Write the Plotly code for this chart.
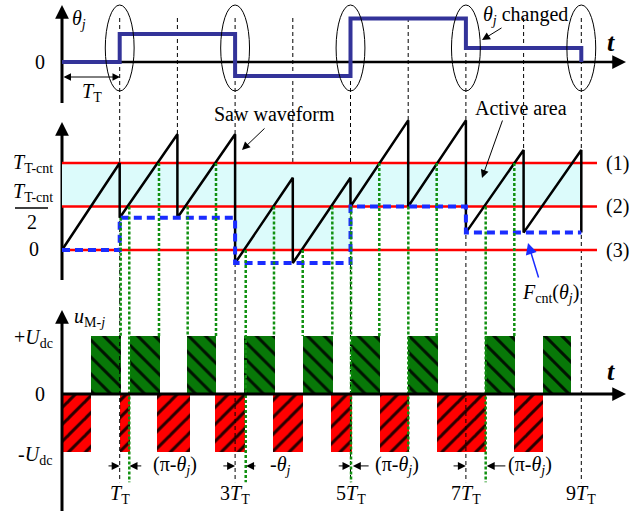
import plotly.graph_objects as go

W, H = 644, 511

# ---------------- data ----------------
# top panel: theta_j step signal (t in units of T_T)
theta_t = [0, 1, 3, 5, 7, 9]
theta_val = [0, 2.0, -1.0, 3.1, 1.0, 0]
change_t = [1, 3, 5, 7, 9]          # instants where theta_j may change (ellipses)

# middle panel: saw waveform vertices (value in units of T_T-cnt)
saw_t = [0, 1, 1, 2, 2, 3, 3, 4, 4, 5, 5, 6, 6, 7, 7, 8, 8, 9, 9]
saw_v = [0, 1.0, 0.37, 1.33, 0.37, 1.33, -0.15, 0.83, -0.15, 0.83,
         0.5, 1.49, 0.5, 1.49, 0.2, 1.15, 0.2, 1.15, 0.2]
fcnt_t = [0, 1, 3, 5, 7, 9]
fcnt_v = [0, 0.37, -0.15, 0.5, 0.2, 0.2]
levels = [1.0, 0.5, 0.0]
level_names = ['(1)', '(2)', '(3)']
active_t0 = [0, 3]
active_t1 = [9, 5]
active_lo = [0.5, 0.0]
active_hi = [1.0, 0.5]

# bottom panel: output pulses u_M-j
green_start = [0.51, 1.17, 2.17, 3.16, 4.17, 5.01, 6.00, 7.33, 8.33]
green_end = [1.02, 1.69, 2.67, 3.69, 4.69, 5.51, 6.51, 7.85, 8.83]
red_start = [0.00, 1.00, 1.65, 2.65, 3.65, 4.67, 5.51, 6.50, 7.83]
red_end = [0.51, 1.17, 2.22, 3.17, 4.17, 5.02, 6.02, 7.34, 8.34]

# green dotted projection lines: t, start level (middle), end level (bottom)
gd_t = [1.017, 1.166, 1.681, 2.178, 2.669, 3.184, 3.674, 4.172, 4.685,
        5.009, 5.499, 6.002, 6.494, 7.343, 7.839]
gd_top = [0.37, 0.5, 1, 0.5, 1, 0, 0.5, 0, 0.5, 0.5, 1, 0.5, 1, 0.5, 1]
gd_bot = [1, -1.52, 1, 1, 1, -1.52, 1, 1, 1, -1.52, 1, -1.0, 1, -1.52, 1]

grid_t = [1, 2, 3, 4, 5, 6, 7, 8, 9]
tick_t = [1, 3, 5, 7, 9]
tick_labels = ['<i>T</i><sub>T</sub>', '3<i>T</i><sub>T</sub>', '5<i>T</i><sub>T</sub>',
               '7<i>T</i><sub>T</sub>', '9<i>T</i><sub>T</sub>']
# interval annotations in bottom panel: (right-arrow tail, head), (left-arrow tail, head), label
gap_r = [(0.78, 1.0), (2.77, 3.0), (4.77, 5.0), (6.76, 7.0)]
gap_l = [(1.40, 1.17), (3.38, 3.19), (5.34, 5.04), (7.71, 7.36)]
gap_text = ['(π-<i>θ</i><sub><i>j</i></sub>)', '-<i>θ</i><sub><i>j</i></sub>',
            '(π-<i>θ</i><sub><i>j</i></sub>)', '(π-<i>θ</i><sub><i>j</i></sub>)']
gap_text_x = [1.96, 3.78, 5.81, 8.11]

# ---------------- layout geometry ----------------
X0, TPX = 62, 57.7
panels = {
    'y':  dict(zero=62, scale=14, ptop=0, pbot=110),
    'y2': dict(zero=250, scale=87, ptop=110, pbot=300),
    'y3': dict(zero=394, scale=58, ptop=300, pbot=511),
}


def yrange(p):
    return [(p['zero'] - p['pbot']) / p['scale'], (p['zero'] - p['ptop']) / p['scale']]


def ydom(p):
    return [1 - p['pbot'] / H, 1 - p['ptop'] / H]


def to_paper(ax, v):
    p = panels[ax]
    return 1 - (p['zero'] - v * p['scale']) / H


def PX(x):
    return x / W


def PY(y):
    return 1 - y / H


FONT = 'Liberation Serif, Times New Roman, serif'
fig = go.Figure()

# active area fill
for t0, t1, lo, hi in zip(active_t0, active_t1, active_lo, active_hi):
    fig.add_trace(go.Scatter(x=[t0, t1, t1, t0, t0], y=[lo, lo, hi, hi, lo], yaxis='y2',
                             mode='lines', fill='toself', fillcolor='#dcfbfb',
                             line=dict(width=0, color='rgba(0,0,0,0)'), hoverinfo='skip'))
# red level lines
red_end_t = (597 - X0) / TPX
for lv in levels:
    fig.add_trace(go.Scatter(x=[0, red_end_t], y=[lv, lv], yaxis='y2', mode='lines',
                             line=dict(color='#ff0000', width=2.5), hoverinfo='skip'))
# saw waveform
fig.add_trace(go.Scatter(x=saw_t, y=saw_v, yaxis='y2', mode='lines',
                         line=dict(color='black', width=2.5)))
# F_cnt dashed blue
fig.add_trace(go.Scatter(x=fcnt_t, y=fcnt_v, yaxis='y2', mode='lines', line_shape='hv',
                         line=dict(color='#1a2cff', width=4, dash='8px,5px')))
# theta_j step
fig.add_trace(go.Scatter(x=theta_t, y=theta_val, yaxis='y', mode='lines', line_shape='hv',
                         line=dict(color='#333399', width=4)))
# pulses
fig.add_trace(go.Bar(x=[(s + e) / 2 for s, e in zip(green_start, green_end)],
                     y=[1] * len(green_start), width=[e - s for s, e in zip(green_start, green_end)],
                     base=0, yaxis='y3',
                     marker=dict(color='#087808', line=dict(width=0),
                                 pattern=dict(shape='\\', fgcolor='black', size=12, solidity=0.25,
                                              fgopacity=0.85))))
fig.add_trace(go.Bar(x=[(s + e) / 2 for s, e in zip(red_start, red_end)],
                     y=[-1] * len(red_start), width=[e - s for s, e in zip(red_start, red_end)],
                     base=0, yaxis='y3',
                     marker=dict(color='#ff0000', line=dict(width=0),
                                 pattern=dict(shape='/', fgcolor='black', size=12, solidity=0.25,
                                              fgopacity=0.85))))

shapes = []
# black dashed time grid
top_grid = to_paper('y', (62 - 18) / 14)
for k in grid_t:
    peak = max(v for t, v in zip(saw_t, saw_v) if t == k)
    if k % 2 == 1:
        shapes.append(dict(type='line', xref='x', yref='paper', x0=k, x1=k,
                           y0=top_grid, y1=PY(300), line=dict(color='black', width=1, dash='4px,3px'),
                           layer='below'))
        shapes.append(dict(type='line', xref='x', yref='paper', x0=k, x1=k,
                           y0=PY(300), y1=to_paper('y3', -1.52),
                           line=dict(color='black', width=1, dash='4px,3px'), layer='above'))
    else:
        shapes.append(dict(type='line', xref='x', yref='paper', x0=k, x1=k,
                           y0=top_grid, y1=to_paper('y2', peak),
                           line=dict(color='black', width=1, dash='4px,3px'), layer='below'))
# green dotted projections
for t, a, b in zip(gd_t, gd_top, gd_bot):
    shapes.append(dict(type='line', xref='x', yref='paper', x0=t, x1=t,
                       y0=to_paper('y2', a), y1=to_paper('y3', b),
                       line=dict(color='#109010', width=2.5, dash='3px,2px'), layer='above'))
# ellipses
for k in change_t:
    shapes.append(dict(type='circle', xref='x', yref='y', x0=k - 0.25, x1=k + 0.25,
                       y0=(62 - 91) / 14, y1=(62 - 5) / 14, line=dict(color='black', width=1)))
# axes lines
ax_t_end = (618 - X0) / TPX
shapes += [
    dict(type='line', xref='x', yref='y', x0=0, x1=ax_t_end, y0=0, y1=0,
         line=dict(color='black', width=2.5), layer='below'),
    dict(type='line', xref='x', yref='paper', x0=0, x1=0, y0=PY(103), y1=PY(14),
         line=dict(color='black', width=3), layer='below'),
    dict(type='line', xref='x', yref='paper', x0=0, x1=0, y0=PY(280), y1=PY(131),
         line=dict(color='black', width=3), layer='below'),
    dict(type='line', xref='x', yref='paper', x0=0, x1=0, y0=PY(511), y1=PY(318),
         line=dict(color='black', width=3), layer='above'),
    dict(type='line', xref='x', yref='y3', x0=0, x1=ax_t_end, y0=0, y1=0,
         line=dict(color='black', width=3), layer='above'),
    # fraction bar
    dict(type='line', xref='paper', yref='paper', x0=PX(15), x1=PX(48), y0=PY(208), y1=PY(208),
         line=dict(color='black', width=1.3)),
]

ann = []


def text(s, x, y, size=20, xref='paper', yref='paper', color='black', xanchor='center'):
    ann.append(dict(text=s, x=x, y=y, xref=xref, yref=yref, showarrow=False,
                    xanchor=xanchor, yanchor='middle', font=dict(family=FONT, size=size, color=color)))


def parrow(head, tail, width=1, size=1.6, color='black', head_style=2, side='end'):
    hx, hy = head
    tx, ty = tail
    ann.append(dict(text='', x=PX(hx), y=PY(hy), xref='paper', yref='paper',
                    ax=tx - hx, ay=ty - hy, axref='pixel', ayref='pixel', showarrow=True,
                    arrowhead=head_style, startarrowhead=head_style, arrowsize=size,
                    startarrowsize=size, arrowwidth=width, arrowcolor=color, arrowside=side,
                    standoff=0, startstandoff=0))


# axis heads
parrow((62, 5), (62, 20), width=2.5, size=1.1)
parrow((626, 62), (610, 62), width=2.5, size=1.1)
parrow((62, 122), (62, 137), width=2.5, size=1.1)
parrow((62, 310), (62, 325), width=2.5, size=1.1)
parrow((626, 394), (610, 394), width=2.5, size=1.1)

# top panel labels
text('<i>θ</i><sub><i>j</i></sub>', PX(79), PY(19))
text('0', PX(40), PY(62))
text('<i>T</i><sub>T</sub>', PX(92), PY(92))
parrow((120, 77), (62, 77), width=1, size=1.5, side='end+start')
text('<b><i>t</i></b>', PX(611), PY(42), size=26)
text('<i>θ</i><sub><i>j</i></sub> changed', PX(525), PY(15))
parrow((482, 40), (503, 27), width=1, size=1.6)

# middle panel labels
text('<i>T</i><sub>T-cnt</sub>', PX(33), PY(163))
text('<i>T</i><sub>T-cnt</sub>', PX(33), PY(192))
text('2', PX(32), PY(222))
text('0', PX(34), PY(249))
for lv, name in zip(levels, level_names):
    text(name, PX(617), to_paper('y2', lv))
text('Saw waveform', PX(274), PY(114))
parrow((242, 150), (266, 127), width=1, size=1.6)
text('Active area', PX(521), PY(108))
parrow((482, 178), (503, 119), width=1, size=1.6)
text('<i>F</i><sub>cnt</sub>(<i>θ</i><sub><i>j</i></sub>)', PX(550), PY(293))
parrow((528, 243), (539, 279), width=1.5, size=1.5, color='#1a2cff')

# bottom panel labels
text('+<i>U</i><sub>dc</sub>', PX(33), PY(338))
text('0', PX(40), PY(394))
text('-<i>U</i><sub>dc</sub>', PX(35), PY(455))
text('<i>u</i><sub>M-<i>j</i></sub>', PX(89), PY(317))
text('<b><i>t</i></b>', PX(611), PY(371), size=26)
for k, lab in zip(tick_t, tick_labels):
    text(lab, k, PY(494), xref='x')
ygap = -1.24
for (rt, rh), (lt, lh), s, xt in zip(gap_r, gap_l, gap_text, gap_text_x):
    for tl, hd in ((rt, rh), (lt, lh)):
        ann.append(dict(text='', x=hd, y=ygap, xref='x', yref='y3', ax=tl, ay=ygap,
                        axref='x', ayref='y3', showarrow=True, arrowhead=2, arrowsize=1.6,
                        arrowwidth=1, arrowcolor='black', standoff=0))
    text(s, xt, to_paper('y3', ygap), xref='x')

fig.update_layout(
    width=W, height=H, margin=dict(l=0, r=0, t=0, b=0),
    paper_bgcolor='white', plot_bgcolor='rgba(0,0,0,0)',
    showlegend=False, barmode='overlay', bargap=0,
    xaxis=dict(range=[-X0 / TPX, (W - X0) / TPX], domain=[0, 1], visible=False, fixedrange=True),
    yaxis=dict(range=yrange(panels['y']), domain=ydom(panels['y']), visible=False),
    yaxis2=dict(range=yrange(panels['y2']), domain=ydom(panels['y2']), visible=False),
    yaxis3=dict(range=yrange(panels['y3']), domain=ydom(panels['y3']), visible=False),
    shapes=shapes, annotations=ann,
)
fig.write_html('out.html')
